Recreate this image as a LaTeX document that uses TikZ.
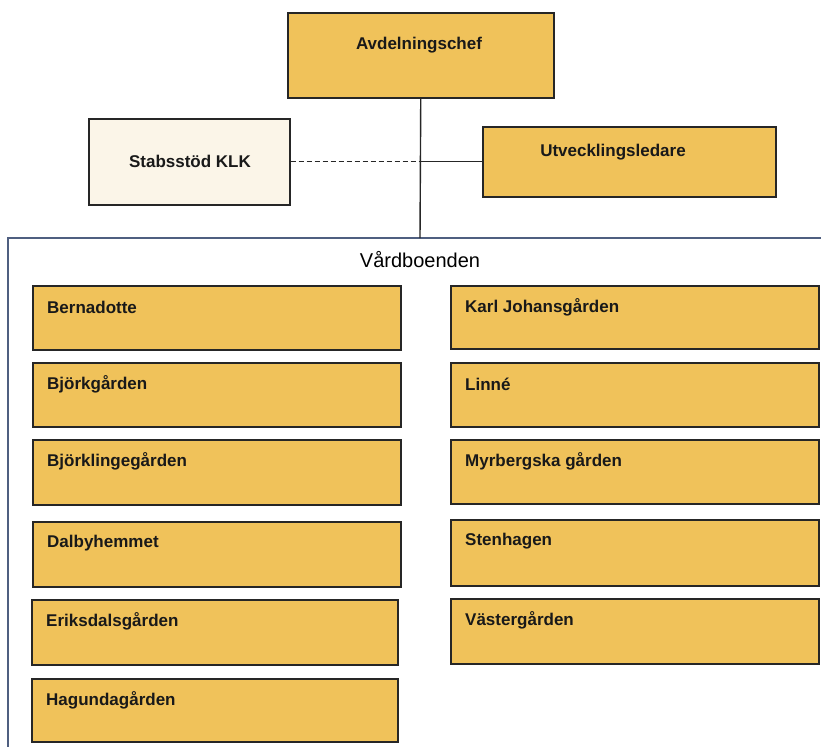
\documentclass[tikz,border=0pt]{standalone}
\usepackage{fontspec}
\setmainfont{Liberation Sans}
\definecolor{gold}{HTML}{F0C25A}
\definecolor{cream}{HTML}{FBF5E8}
\definecolor{framec}{HTML}{4F5F80}
\begin{document}
\begin{tikzpicture}[x=1pt,y=-1pt,
  box/.style={draw=black!85, line width=1.5pt, fill=gold, inner sep=0pt, anchor=north west},
  lbl/.style={font=\bfseries\fontsize{17}{20}\selectfont, inner sep=0pt, anchor=west, text=black!90},
  conn/.style={line width=1.4pt, draw=black!85}]
\useasboundingbox (0,0) rectangle (821,747);
\fill[white] (0,0) rectangle (821,747);

% top level
\node[box, minimum width=266pt, minimum height=85pt] (chef) at (287,12) {};
\node[lbl, anchor=center] (chefT) at (419,45) {Avdelningschef};

\node[box, fill=cream, minimum width=201pt, minimum height=86pt] (stab) at (88,118) {};
\node[lbl, anchor=center] (stabT) at (190,161) {Stabsstöd KLK};

\node[box, minimum width=293pt, minimum height=70pt] (utv) at (482,126) {};
\node[lbl, anchor=center] (utvT) at (613,152) {Utvecklingsledare};

% container
\coordinate (ctop) at (420,238);
\coordinate (cr) at (821,238);
\coordinate (cl) at (8,238);
\coordinate (cb) at (8,747);
\draw[framec, line width=1.1pt] (cr) -- (cl) -- (cb);
\node[font=\fontsize{20}{24}\selectfont, inner sep=0pt] (title) at (420,260) {Vårdboenden};

% connectors
\coordinate (jn) at (chef.south |- stab.east);
\draw[conn] (chef.south) -- (ctop);
\draw[conn, dashed, dash pattern=on 5pt off 3pt, line width=1.2pt] (stab.east) -- (jn);
\draw[conn] (jn) -- (utv.west);

% left column
\node[box, minimum width=368pt, minimum height=64pt] (b1) at (32,285) {};
\node[box, minimum width=368pt, minimum height=64pt] (b2) at (32,362) {};
\node[box, minimum width=368pt, minimum height=65pt] (b3) at (32,439) {};
\node[box, minimum width=368pt, minimum height=65pt] (b4) at (32,521) {};
\node[box, minimum width=366pt, minimum height=65pt] (b5) at (31,599) {};
\node[box, minimum width=366pt, minimum height=63pt] (b6) at (31,678) {};
% right column
\node[box, minimum width=368pt, minimum height=63pt] (r1) at (450,285) {};
\node[box, minimum width=368pt, minimum height=64pt] (r2) at (450,362) {};
\node[box, minimum width=368pt, minimum height=64pt] (r3) at (450,439) {};
\node[box, minimum width=368pt, minimum height=66pt] (r4) at (450,519) {};
\node[box, minimum width=368pt, minimum height=65pt] (r5) at (450,598) {};

\foreach \n/\t in {b1/Bernadotte, b2/Björkgården, b3/Björklingegården, b4/Dalbyhemmet, b5/Eriksdalsgården, b6/Hagundagården, r1/Karl Johansgården, r2/Linné, r3/Myrbergska gården, r4/Stenhagen, r5/Västergården}
  \node[lbl] (\n T) at ([xshift=15pt,yshift=-22pt]\n.north west) {\t};
\end{tikzpicture}
\end{document}
